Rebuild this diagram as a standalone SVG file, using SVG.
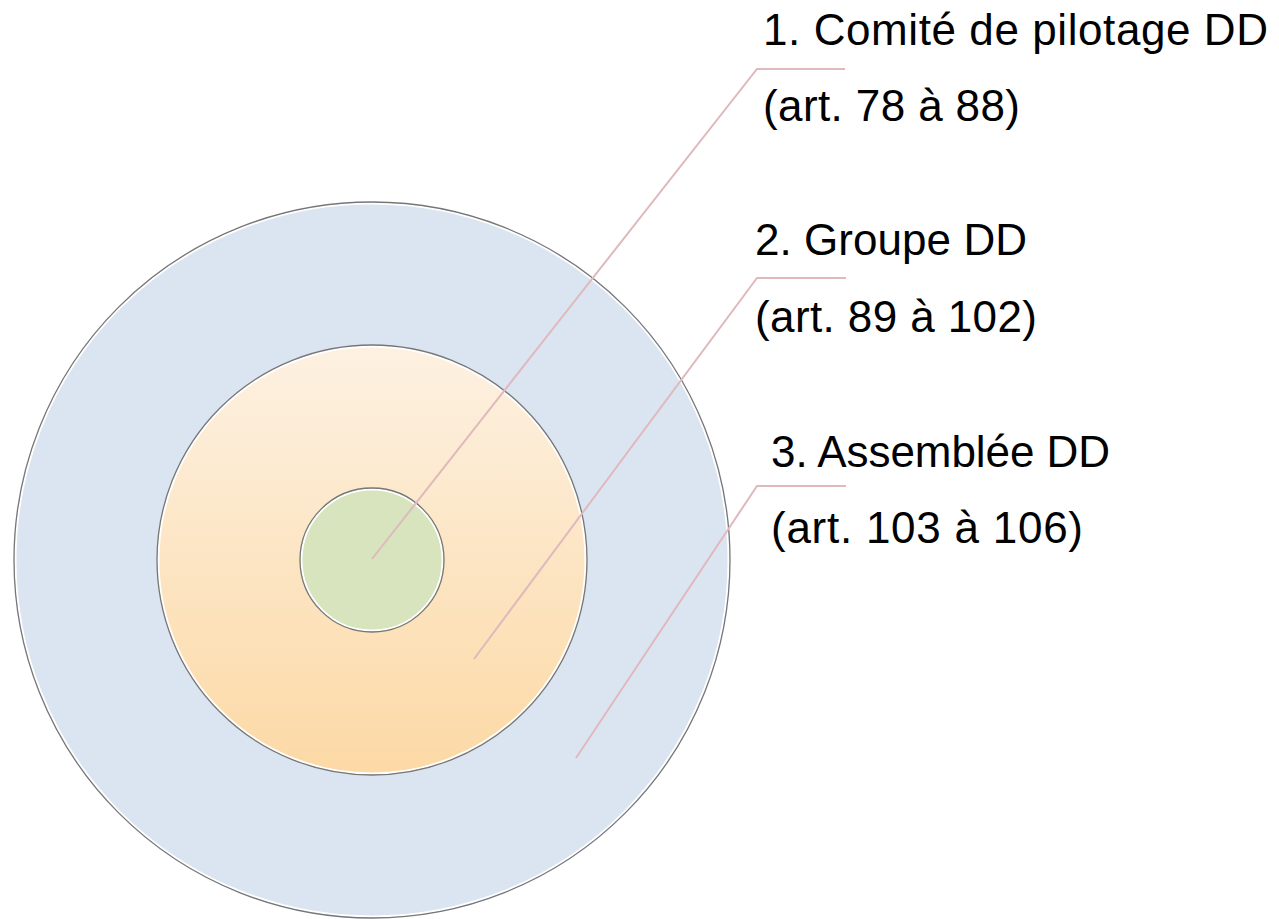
<svg xmlns="http://www.w3.org/2000/svg" width="1279" height="919" viewBox="0 0 1279 919">
<defs>
<linearGradient id="gMid" x1="0" y1="0" x2="0" y2="1">
<stop offset="0" stop-color="#fdf1e2"/>
<stop offset="1" stop-color="#fcd9a5"/>
</linearGradient>
<style>
.edge{fill:none;stroke:#777;stroke-width:1.3}
.inner{fill:none;stroke:#fff;stroke-width:2}
.lead{fill:none;stroke:#dfb9bc;stroke-width:2}
.lbl{font-family:"Liberation Sans",Arial,sans-serif;font-size:44px;fill:#000}
</style>
</defs>
<rect width="1279" height="919" fill="#fff"/>
<g id="ring3">
<circle cx="372" cy="560" r="358" fill="#dbe5f1"/>
<circle cx="372" cy="560" r="356.5" class="inner"/>
<circle cx="372" cy="560" r="358" class="edge"/>
</g>
<g id="ring2">
<circle cx="372" cy="560" r="215" fill="url(#gMid)"/>
<circle cx="372" cy="560" r="213.5" class="inner"/>
<circle cx="372" cy="560" r="215" class="edge"/>
</g>
<g id="ring1">
<circle cx="372" cy="560" r="72" fill="#d7e4bd"/>
<circle cx="372" cy="560" r="70.5" class="inner"/>
<circle cx="372" cy="560" r="72" class="edge"/>
</g>
<g id="connectors">
<polyline class="lead" points="372,559 757,69 845,69"/>
<polyline class="lead" points="474,659 757,278 846,278"/>
<polyline class="lead" points="576,758 757,486 846,486"/>
</g>
<g id="label1">
<text class="lbl" x="763" y="45" textLength="505" lengthAdjust="spacing">1. Comité de pilotage DD</text>
<text class="lbl" x="763" y="121" textLength="257" lengthAdjust="spacing">(art. 78 à 88)</text>
</g>
<g id="label2">
<text class="lbl" x="755" y="255" textLength="272" lengthAdjust="spacing">2. Groupe DD</text>
<text class="lbl" x="755" y="332" textLength="282" lengthAdjust="spacing">(art. 89 à 102)</text>
</g>
<g id="label3">
<text class="lbl" x="771" y="467" textLength="339" lengthAdjust="spacing">3. Assemblée DD</text>
<text class="lbl" x="771" y="543" textLength="312" lengthAdjust="spacing">(art. 103 à 106)</text>
</g>
</svg>
